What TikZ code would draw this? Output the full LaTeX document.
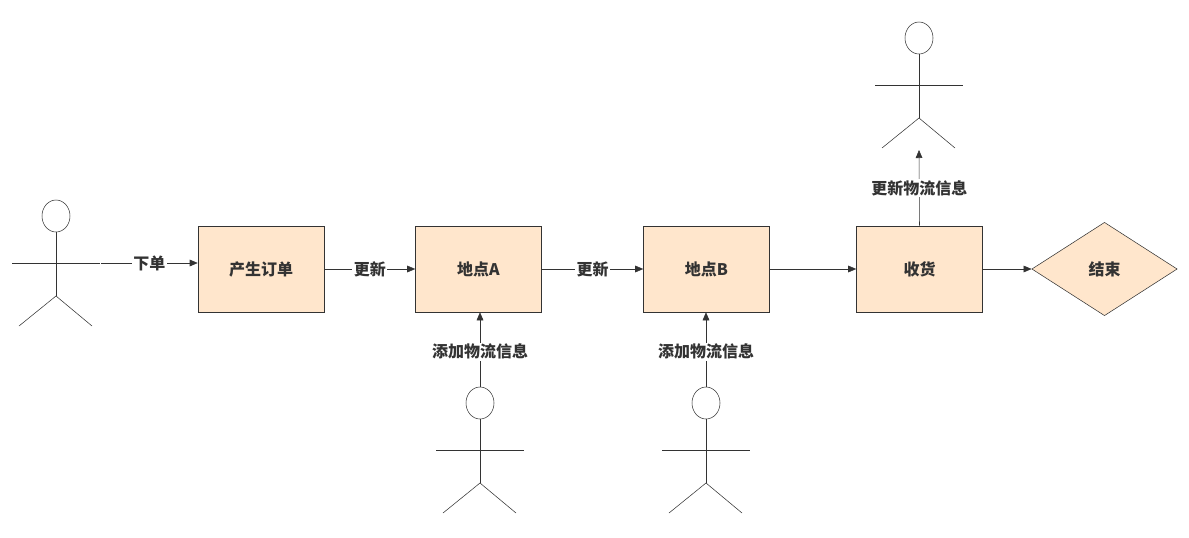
\documentclass[tikz,border=0pt]{standalone}
\usepackage{fontspec}
\setmainfont{Noto Sans CJK SC}
\usetikzlibrary{shapes.geometric,arrows.meta}
\definecolor{boxfill}{HTML}{FFE6CC}
\definecolor{ink}{HTML}{333333}
\begin{document}
\begin{tikzpicture}[x=0.75pt,y=-0.75pt,
  txt/.style={font=\bfseries\fontsize{12}{14}\selectfont,text=ink},
  box/.style={draw=ink,fill=boxfill,minimum width=94.5pt,minimum height=64.5pt,txt},
  lbl/.style={fill=white,txt,inner sep=1pt},
  arr/.style={draw=ink,-{Triangle[length=6pt,width=5pt]}},
  lim/.style={draw=ink}]
\useasboundingbox (0,0) rectangle (1189,537);
\newcommand{\actor}[3]{% name, x, headcenter y
  \node[draw=ink,ellipse,minimum width=21pt,minimum height=24pt,inner sep=0] (#1h) at (#2,#3) {};
  \draw[lim] (#1h.south) -- (#2,#3+80);
  \draw[lim] (#2-44,#3+47) -- (#2+44,#3+47);
  \draw[lim] (#2-37,#3+110) -- (#2,#3+80) -- (#2+36,#3+110);
}
\actor{u}{56}{216}
\actor{p}{480}{403}
\actor{q}{706}{403}
\actor{r}{919}{38}
\coordinate (ua) at (101,263);
\node[box] (b1) at (261,269) {产生订单};
\node[box] (b2) at (478.5,269) {地点A};
\node[box] (b3) at (706.5,269) {地点B};
\node[box] (b4) at (919.5,269) {收货};
\node[draw=ink,fill=boxfill,diamond,aspect=1.55,minimum width=109pt,minimum height=70pt,inner sep=0,txt] (e) at (1104.5,269) {结束};
\draw[arr] (ua) -- node[lbl]{下单} (b1.west |- ua);
\draw[arr] (b1) -- node[lbl]{更新} (b2);
\draw[arr] (b2) -- node[lbl]{更新} (b3);
\draw[arr] (b3) -- (b4);
\draw[arr] (b4) -- (e);
\draw[arr] (ph.north) -- node[lbl,pos=0.47]{添加物流信息} (b2.south -| ph.north);
\draw[arr] (qh.north) -- node[lbl,pos=0.47]{添加物流信息} (b3.south -| qh.north);
\draw[arr] (b4.north) -- node[lbl,pos=0.5]{更新物流信息} (919,150);
\end{tikzpicture}
\end{document}
